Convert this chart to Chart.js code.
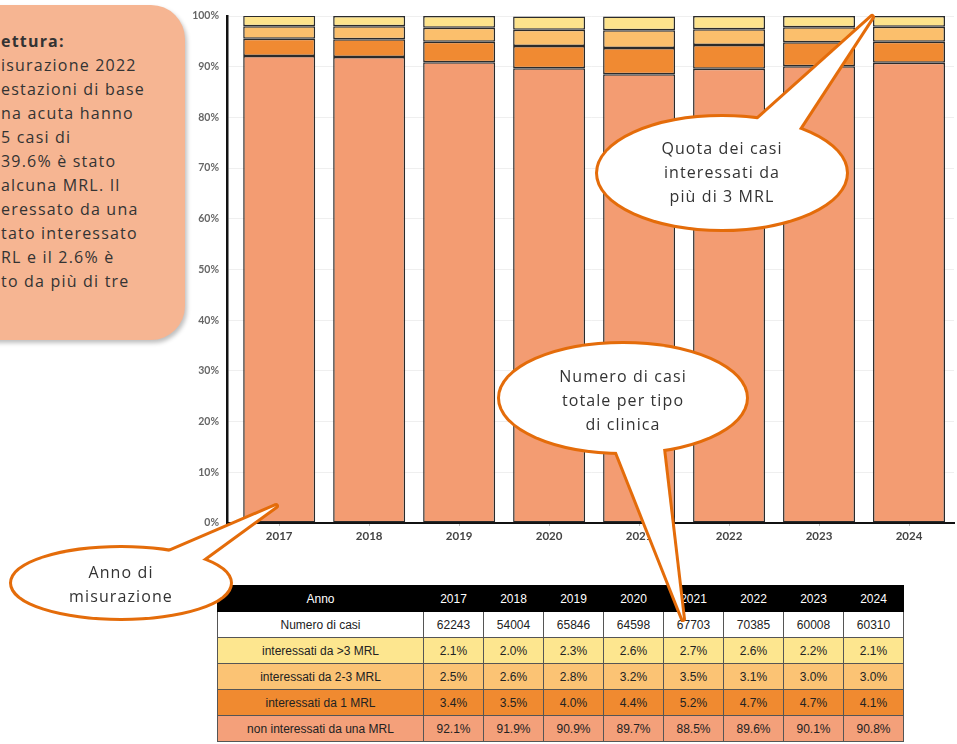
<!DOCTYPE html>
<html>
<head>
<meta charset="utf-8">
<script src="https://cdn.jsdelivr.net/npm/chart.js@4.4.1/dist/chart.umd.min.js"></script>
<style>
    body { margin: 0; width: 957px; height: 744px; overflow: hidden; background: #fff; position: relative; font-family: "Open Sans", Lato, sans-serif; }
    #chartBox { position: absolute; left: 0; top: 0; width: 957px; height: 560px; }
    #note { position: absolute; left: -40px; top: 5px; width: 225px; height: 335px; background: #f6b592; border-radius: 34px; box-shadow: 2px 3px 4px rgba(0,0,0,0.25); }
    #noteText { position: absolute; left: 1px; top: 29px; font-family: "Open Sans", sans-serif; font-size: 16px; line-height: 24px; color: #333; white-space: pre; letter-spacing: 1.2px; }
    #noteText b { font-weight: 700; }
    #tab { position: absolute; left: 217px; top: 585px; border-collapse: collapse; font-family: "Liberation Sans", Arial, sans-serif; font-size: 12px; color: #222; }
    #tab td, #tab th { border: 1px solid #555; height: 25px; padding: 0; text-align: center; font-weight: normal; }
    #tab th { background: #000; color: #fff; border-color: #000; }
    #tab td.lbl { width: 205px; }
    #tab td.val, #tab th.val { width: 59px; }
    #bubbles { position: absolute; left: 0; top: 0; width: 957px; height: 744px; pointer-events: none; }
    #bubbles text { font-family: "Open Sans", sans-serif; font-size: 16px; fill: #333; text-anchor: middle; letter-spacing: 1.1px; }
</style>
</head>
<body>
<div id="note"></div>
<div id="noteText"><b>ettura:</b>
isurazione 2022
estazioni di base
na acuta hanno
5 casi di
39.6% è stato
alcuna MRL. Il
eressato da una
tato interessato
RL e il 2.6% è
to da più di tre</div>

<div id="chartBox"><canvas id="chart"></canvas></div>

<table id="tab"></table>

<svg id="bubbles" xmlns="http://www.w3.org/2000/svg">
    <g stroke="#e46c0a" stroke-width="6" fill="none" stroke-linejoin="round">
        <ellipse cx="722" cy="173" rx="124" ry="56"/>
        <polygon points="748,128 872,17 795,135"/>
        <ellipse cx="623" cy="398" rx="123" ry="54"/>
        <polygon points="612,440 683,619 662,440"/>
        <ellipse cx="121" cy="583" rx="109" ry="35"/>
        <polygon points="150,560 276,506 195,565"/>
    </g>
    <g fill="#fff" stroke="none">
        <ellipse cx="722" cy="173" rx="124" ry="56"/>
        <polygon points="748,128 872,17 795,135"/>
        <ellipse cx="623" cy="398" rx="123" ry="54"/>
        <polygon points="612,440 683,619 662,440"/>
        <ellipse cx="121" cy="583" rx="109" ry="35"/>
        <polygon points="150,560 276,506 195,565"/>
    </g>
    <text x="722" y="154">Quota dei casi</text>
    <text x="722" y="178">interessati da</text>
    <text x="722" y="202">più di 3 MRL</text>
    <text x="623" y="382">Numero di casi</text>
    <text x="623" y="406">totale per tipo</text>
    <text x="623" y="430">di clinica</text>
    <text x="121" y="578">Anno di</text>
    <text x="121" y="602">misurazione</text>
</svg>

<script>
// Dati
const years = ['2017', '2018', '2019', '2020', '2021', '2022', '2023', '2024'];
const casi = [62243, 54004, 65846, 64598, 67703, 70385, 60008, 60310];
const piuDi3 = [2.1, 2.0, 2.3, 2.6, 2.7, 2.6, 2.2, 2.1];
const da2a3 = [2.5, 2.6, 2.8, 3.2, 3.5, 3.1, 3.0, 3.0];
const da1 = [3.4, 3.5, 4.0, 4.4, 5.2, 4.7, 4.7, 4.1];
const nessuna = [92.1, 91.9, 90.9, 89.7, 88.5, 89.6, 90.1, 90.8];

const labelNessuna = 'non interessati da una MRL';
const labelDa1 = 'interessati da 1 MRL';
const labelDa2a3 = 'interessati da 2-3 MRL';
const labelPiuDi3 = 'interessati da >3 MRL';

const colNessuna = '#f39c72';
const colDa1 = '#f08a32';
const colDa2a3 = '#fbbf6c';
const colPiuDi3 = '#fde38c';

function toPoints(values) {
    return values.map(function(v, i) { return {x: i, y: v}; });
}

function makeSet(label, values, color) {
    return {
        label: label,
        data: toPoints(values),
        backgroundColor: color,
        borderColor: '#2b2b2b',
        borderWidth: 1.5,
        borderSkipped: false,
        categoryPercentage: 1,
        barPercentage: 0.8
    };
}

let config = {
    type: 'bar',
    data: {
        datasets: [
            makeSet(labelNessuna, nessuna, colNessuna),
            makeSet(labelDa1, da1, colDa1),
            makeSet(labelDa2a3, da2a3, colDa2a3),
            makeSet(labelPiuDi3, piuDi3, colPiuDi3)
        ]
    },
    options: {
        responsive: true,
        maintainAspectRatio: false,
        animation: false,
        layout: { padding: { top: 16, right: 3, left: 0, bottom: 0 } },
        plugins: {
            legend: { display: false },
            tooltip: { enabled: false }
        },
        scales: {
            x: {
                type: 'linear',
                stacked: true,
                offset: false,
                min: -0.58,
                max: 7.5,
                afterFit: function(scale) { scale.height = 37; },
                grid: { offset: false, drawOnChartArea: false, drawTicks: true, tickLength: 3, color: '#bbb' },
                border: { color: '#111', width: 2 },
                ticks: {
                    stepSize: 1,
                    includeBounds: false,
                    autoSkip: false,
                    maxRotation: 0,
                    padding: 3,
                    color: '#444',
                    font: { family: 'Lato', size: 11.5, weight: 'bold' },
                    callback: function(v) { return years[v]; }
                }
            },
            y: {
                stacked: true,
                min: 0,
                max: 100,
                afterFit: function(scale) { scale.width = 227; },
                grid: { color: '#efefef', drawTicks: false },
                border: { color: '#111', width: 2.5 },
                ticks: {
                    stepSize: 10,
                    padding: 8,
                    color: '#666',
                    font: { family: 'Lato', size: 10.5, weight: 'bold' },
                    callback: function(v) { return v + '%'; }
                }
            }
        }
    }
};

new Chart(document.getElementById('chart'), config);

// Tabella sotto il grafico
function fillTable(tableElem) {
    let html = '<tr><th class="lbl">Anno</th>';
    for (const y of years) html += '<th class="val">' + y + '</th>';
    html += '</tr>';
    html += '<tr style="background:#fff"><td class="lbl">Numero di casi</td>';
    for (const n of casi) html += '<td class="val">' + n + '</td>';
    html += '</tr>';
    const rows = [
        [labelPiuDi3, piuDi3, '#fde68f'],
        [labelDa2a3, da2a3, '#fbc374'],
        [labelDa1, da1, '#f08a30'],
        [labelNessuna, nessuna, '#f4a07a']
    ];
    for (const r of rows) {
        html += '<tr style="background:' + r[2] + '"><td class="lbl">' + r[0] + '</td>';
        for (const v of r[1]) html += '<td class="val">' + v.toFixed(1) + '%</td>';
        html += '</tr>';
    }
    tableElem.innerHTML = html;
}
fillTable(document.getElementById('tab'));
</script>
</body>
</html>
